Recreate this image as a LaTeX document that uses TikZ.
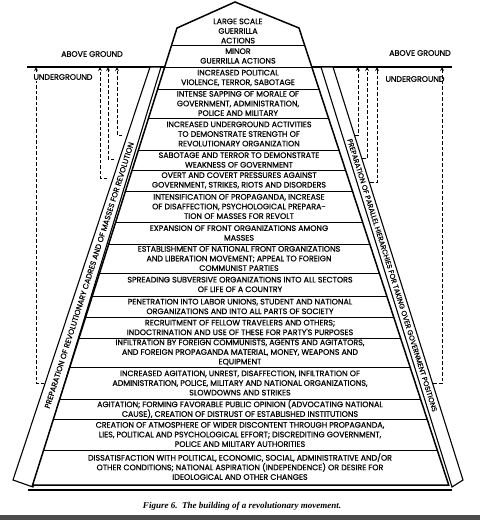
\documentclass[tikz,border=0pt]{standalone}
\usepackage{fontspec}
\newfontfamily\stagefont{Poppins}[FakeBold=0.7]
\newfontfamily\captionfont{Liberation Serif}
\begin{document}
\begin{tikzpicture}[x=1pt, y=-1pt, >=stealth,
    stage/.style={font=\stagefont\fontsize{7.9}{9.6}\selectfont, align=center, inner sep=0pt},
    bandtext/.style={inner sep=0pt, sloped, midway},
    updash/.style={dash pattern=on 3.5pt off 2pt, line width=0.8pt}]
    \useasboundingbox (0,0) rectangle (480,520);

    % ground line and the two side bands
    \draw[line width=1.3pt] (27,67) -- (452,67);
    \draw[line width=1.1pt, fill=white] (150,67) -- (161,67) -- (33,487) -- (13,480) -- cycle;
    \draw[line width=1.1pt, fill=white] (321,67) -- (333,67) -- (463,480) -- (452,487) -- cycle;

    % the pyramid of stages
    \draw[line width=1.5pt, fill=white] (235,2) -- (299,28) -- (448.7,485) -- (32.6,485) -- (177,28) -- cycle;
    \begin{scope}
        \clip (235,2) -- (299,28) -- (448.7,485) -- (32.6,485) -- (177,28) -- cycle;
        \draw[line width=1pt]
            (0,45) -- (480,45)   (0,67) -- (480,67)   (0,89) -- (480,89)
            (0,118) -- (480,118) (0,150) -- (480,150) (0,170) -- (480,170)
            (0,191) -- (480,191) (0,222) -- (480,222) (0,244) -- (480,244)
            (0,273) -- (480,273) (0,296) -- (480,296) (0,317) -- (480,317)
            (0,338) -- (480,338) (0,367) -- (480,367) (0,399) -- (480,399)
            (0,419) -- (480,419) (0,450) -- (480,450);
    \end{scope}
    \draw[line width=1.6pt] (28,490) -- (452,490);

    \node[stage] (s1) at (238,31) {LARGE SCALE\\GUERRILLA\\ACTIONS};
    \node[stage] (s2) at (238,56) {MINOR\\GUERRILLA ACTIONS};
    \node[stage] (s3) at (238,78) {INCREASED POLITICAL\\VIOLENCE, TERROR, SABOTAGE};
    \node[stage] (s4) at (238,103.5) {INTENSE SAPPING OF MORALE OF\\GOVERNMENT, ADMINISTRATION,\\POLICE AND MILITARY};
    \node[stage] (s5) at (239,134) {INCREASED UNDERGROUND ACTIVITIES\\TO DEMONSTRATE STRENGTH OF\\REVOLUTIONARY ORGANIZATION};
    \node[stage] (s6) at (239,160) {SABOTAGE AND TERROR TO DEMONSTRATE\\WEAKNESS OF GOVERNMENT};
    \node[stage] (s7) at (239,180.5) {OVERT AND COVERT PRESSURES AGAINST\\GOVERNMENT, STRIKES, RIOTS AND DISORDERS};
    \node[stage] (s8) at (239,206.5) {INTENSIFICATION OF PROPAGANDA, INCREASE\\OF DISAFFECTION, PSYCHOLOGICAL PREPARA-\\TION OF MASSES FOR REVOLT};
    \node[stage] (s9) at (239,233) {EXPANSION OF FRONT ORGANIZATIONS AMONG\\MASSES};
    \node[stage] (s10) at (239,258.5) {ESTABLISHMENT OF NATIONAL FRONT ORGANIZATIONS\\AND LIBERATION MOVEMENT; APPEAL TO FOREIGN\\COMMUNIST PARTIES};
    \node[stage] (s11) at (240,284.5) {SPREADING SUBVERSIVE ORGANIZATIONS INTO ALL SECTORS\\OF LIFE OF A COUNTRY};
    \node[stage] (s12) at (240,306.5) {PENETRATION INTO LABOR UNIONS, STUDENT AND NATIONAL\\ORGANIZATIONS AND INTO ALL PARTS OF SOCIETY};
    \node[stage] (s13) at (240,327.5) {RECRUITMENT OF FELLOW TRAVELERS AND OTHERS;\\INDOCTRINATION AND USE OF THESE FOR PARTY'S PURPOSES};
    \node[stage] (s14) at (240,352.5) {INFILTRATION BY FOREIGN COMMUNISTS, AGENTS AND AGITATORS,\\AND FOREIGN PROPAGANDA MATERIAL, MONEY, WEAPONS AND\\EQUIPMENT};
    \node[stage] (s15) at (240,383) {INCREASED AGITATION, UNREST, DISAFFECTION, INFILTRATION OF\\ADMINISTRATION, POLICE, MILITARY AND NATIONAL ORGANIZATIONS,\\SLOWDOWNS AND STRIKES};
    \node[stage] (s16) at (240,409) {AGITATION; FORMING FAVORABLE PUBLIC OPINION (ADVOCATING NATIONAL\\CAUSE), CREATION OF DISTRUST OF ESTABLISHED INSTITUTIONS};
    \node[stage] (s17) at (240,434.5) {CREATION OF ATMOSPHERE OF WIDER DISCONTENT THROUGH PROPAGANDA,\\LIES, POLITICAL AND PSYCHOLOGICAL EFFORT; DISCREDITING GOVERNMENT,\\POLICE AND MILITARY AUTHORITIES};
    \node[stage] (s18) at (240,466.5) {DISSATISFACTION WITH POLITICAL, ECONOMIC, SOCIAL, ADMINISTRATIVE AND/OR\\OTHER CONDITIONS; NATIONAL ASPIRATION (INDEPENDENCE) OR DESIRE FOR\\IDEOLOGICAL AND OTHER CHANGES};

    % band labels
    \path (23,483.5) -- node[bandtext, font=\stagefont\fontsize{7.6}{8}\selectfont] (lband) {PREPARATION OF REVOLUTIONARY CADRES AND OF MASSES FOR REVOLUTION} (155.5,67);
    \path (327,67) -- node[bandtext, font=\stagefont\fontsize{7.1}{8}\selectfont] (rband) {PREPARATION OF PARALLEL HIERARCHIES FOR TAKING OVER GOVERNMENT POSITIONS} (457.5,483.5);

    % underground lines rising to the surface
    \draw[updash, ->] (44,383) -| (36,67);
    \draw[updash, ->] (107,178) -| (100,67);
    \draw[updash, ->] (114,159) -| (108,67);
    \draw[updash, ->] (122,135) -| (117,67);
    \draw[updash, ->] (355,135) -| (358,67);
    \draw[updash, ->] (362,158) -| (367,67);
    \draw[updash, ->] (370,182) -| (377,67);
    \draw[updash, ->] (433,383) -| (442,67);

    \node[stage] (labove) at (92,54) {ABOVE GROUND};
    \node[stage, fill=white, inner sep=1pt] (lunder) at (63,77) {UNDERGROUND};
    \node[stage] (rabove) at (420,53) {ABOVE GROUND};
    \node[stage] (runder) at (415,79) {UNDERGROUND};

    \node[font=\captionfont\bfseries\itshape\fontsize{9}{11}\selectfont] (caption) at (242,506) {Figure 6.\ \ The building of a revolutionary movement.};
    \fill[black!70] (0,515) rectangle (480,520);
\end{tikzpicture}
\end{document}
